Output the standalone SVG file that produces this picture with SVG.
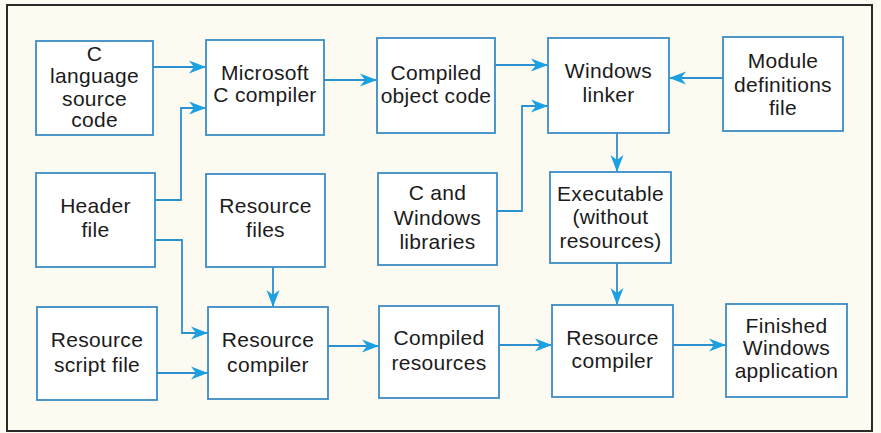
<svg xmlns="http://www.w3.org/2000/svg" width="881" height="433" viewBox="0 0 881 433">
<style>
.bg{fill:#fdfbf1}
.frame{fill:none;stroke:#2a2a2a;stroke-width:2}
.box{fill:#ffffff;stroke:#3a8cc6;stroke-width:1.8}
.t{font-family:"Liberation Sans",Arial,sans-serif;font-size:21px;letter-spacing:0.3px;fill:#1b1b1b;text-anchor:middle}
.c{fill:none;stroke:#2a90d0;stroke-width:1.8}
</style>
<defs>
<marker id="ah" markerUnits="userSpaceOnUse" markerWidth="18" markerHeight="14" refX="16" refY="7" orient="auto">
<path d="M0,0.5 L17,7 L0,13.5 L5,7 z" fill="#1ba0e2"/>
</marker>
</defs>
<rect class="bg" x="0" y="0" width="881" height="433"/>
<rect class="frame" x="7" y="5" width="865" height="426"/>

<g id="connectors">
<path class="c" d="M153,67 H205" marker-end="url(#ah)"/>
<path class="c" d="M155,200 H181 V108 H205" marker-end="url(#ah)"/>
<path class="c" d="M324,80 H376" marker-end="url(#ah)"/>
<path class="c" d="M495,65 H547" marker-end="url(#ah)"/>
<path class="c" d="M497,211 H522 V106 H547" marker-end="url(#ah)"/>
<path class="c" d="M723,78 H670" marker-end="url(#ah)"/>
<path class="c" d="M617,133 V171" marker-end="url(#ah)"/>
<path class="c" d="M155,240 H182 V333 H207" marker-end="url(#ah)"/>
<path class="c" d="M273,267 V306" marker-end="url(#ah)"/>
<path class="c" d="M157,373 H207" marker-end="url(#ah)"/>
<path class="c" d="M328,346 H378" marker-end="url(#ah)"/>
<path class="c" d="M499,345 H551" marker-end="url(#ah)"/>
<path class="c" d="M617,263 V304" marker-end="url(#ah)"/>
<path class="c" d="M673,345 H725" marker-end="url(#ah)"/>
</g>

<g id="c-source">
<rect class="box" x="36" y="41" width="117" height="94"/>
<text class="t" x="94.5" y="61">C</text>
<text class="t" x="94.5" y="83">language</text>
<text class="t" x="94.5" y="106">source</text>
<text class="t" x="94.5" y="127">code</text>
</g>
<g id="ms-compiler">
<rect class="box" x="206" y="40" width="118" height="95"/>
<text class="t" x="265" y="80">Microsoft</text>
<text class="t" x="265" y="102">C compiler</text>
</g>
<g id="compiled-object">
<rect class="box" x="377" y="38" width="118" height="95"/>
<text class="t" x="436" y="80">Compiled</text>
<text class="t" x="436" y="103">object code</text>
</g>
<g id="windows-linker">
<rect class="box" x="548" y="38" width="121" height="95"/>
<text class="t" x="608.5" y="78">Windows</text>
<text class="t" x="608.5" y="102">linker</text>
</g>
<g id="module-def">
<rect class="box" x="723" y="37" width="120" height="94"/>
<text class="t" x="783" y="68">Module</text>
<text class="t" x="783" y="92">definitions</text>
<text class="t" x="783" y="115">file</text>
</g>

<g id="header-file">
<rect class="box" x="36" y="173" width="119" height="94"/>
<text class="t" x="95.5" y="213">Header</text>
<text class="t" x="95.5" y="237">file</text>
</g>
<g id="resource-files">
<rect class="box" x="206" y="174" width="119" height="93"/>
<text class="t" x="265.5" y="213">Resource</text>
<text class="t" x="265.5" y="237">files</text>
</g>
<g id="c-windows-libs">
<rect class="box" x="378" y="173" width="119" height="92"/>
<text class="t" x="437.5" y="200">C and</text>
<text class="t" x="437.5" y="225">Windows</text>
<text class="t" x="437.5" y="249">libraries</text>
</g>
<g id="executable">
<rect class="box" x="550" y="172" width="121" height="91"/>
<text class="t" x="610.5" y="201">Executable</text>
<text class="t" x="610.5" y="224">(without</text>
<text class="t" x="610.5" y="248">resources)</text>
</g>

<g id="resource-script">
<rect class="box" x="37" y="307" width="120" height="93"/>
<text class="t" x="97" y="347">Resource</text>
<text class="t" x="97" y="372">script file</text>
</g>
<g id="resource-compiler-1">
<rect class="box" x="208" y="307" width="120" height="92"/>
<text class="t" x="268" y="347">Resource</text>
<text class="t" x="268" y="372">compiler</text>
</g>
<g id="compiled-resources">
<rect class="box" x="379" y="306" width="120" height="92"/>
<text class="t" x="439" y="345">Compiled</text>
<text class="t" x="439" y="370">resources</text>
</g>
<g id="resource-compiler-2">
<rect class="box" x="552" y="305" width="121" height="92"/>
<text class="t" x="612.5" y="345">Resource</text>
<text class="t" x="612.5" y="368">compiler</text>
</g>
<g id="finished-app">
<rect class="box" x="726" y="304" width="121" height="93"/>
<text class="t" x="786.5" y="333">Finished</text>
<text class="t" x="786.5" y="355">Windows</text>
<text class="t" x="786.5" y="378">application</text>
</g>
</svg>
